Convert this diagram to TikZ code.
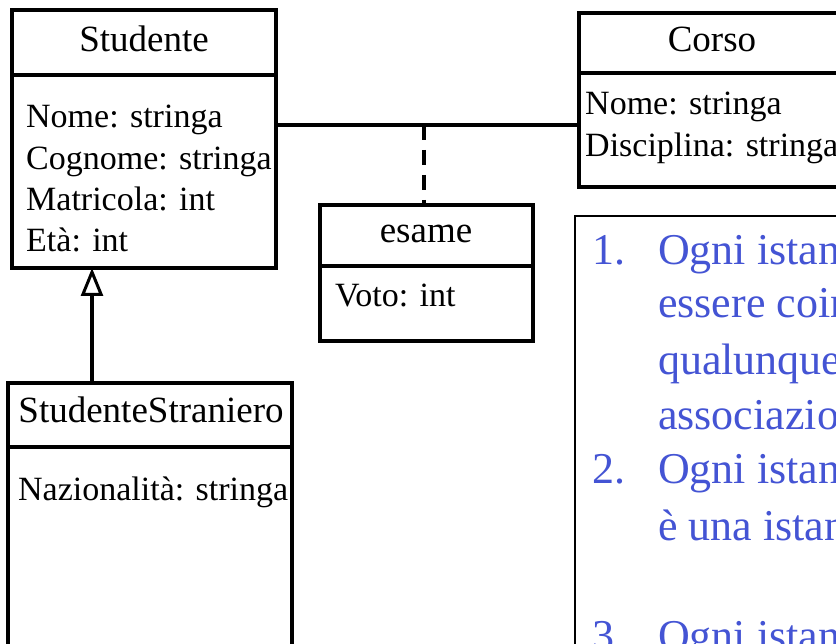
\documentclass[tikz,border=0pt]{standalone}
\usepackage{fontspec}
\setmainfont{Liberation Serif}
\usetikzlibrary{arrows.meta}
\definecolor{noteblue}{RGB}{68,84,212}
\begin{document}
\begin{tikzpicture}[x=1pt,y=-1pt,
  umlbox/.style={draw, line width=3.5pt, inner sep=0pt, outer sep=0pt},
  title/.style={font=\fontsize{37}{44}\selectfont, inner sep=0pt, anchor=base},
  attr/.style={font=\fontsize{34}{41}\selectfont, inner sep=0pt, anchor=base west},
  note/.style={font=\fontsize{44}{55}\selectfont, text=noteblue, inner sep=0pt, anchor=base west},
  link/.style={line width=3.5pt}]
\useasboundingbox (0,0) rectangle (836,644);
\clip (0,0) rectangle (836,644);
\fill[white] (0,0) rectangle (836,644);

% boxes
\node[umlbox, minimum width=264pt, minimum height=258pt] (stud) at (144,139) {};
\node[umlbox, minimum width=266pt, minimum height=174pt] (corso) at (712,100) {};
\node[umlbox, minimum width=213pt, minimum height=136pt] (esame) at (426.5,273) {};
\node[umlbox, minimum width=284pt, minimum height=317pt] (stra) at (150,541.5) {};

% separators
\draw[link] (stud.west |- 0,75) -- (stud.east |- 0,75);
\draw[link] (corso.west |- 0,73) -- (corso.east |- 0,73);
\draw[link] (esame.west |- 0,266) -- (esame.east |- 0,266);
\draw[link] (stra.west |- 0,447) -- (stra.east |- 0,447);

% titles
\node[title] (tstud) at (144,52) {Studente};
\node[title] (tcorso) at (712,52) {Corso};
\node[title] (tesame) at (426,243) {esame};
\node[title] (tstra) at (151,423) {StudenteStraniero};

% attributes
\node[attr] (a1) at (26,128) {Nome: stringa};
\node[attr] (a2) at (26,170) {Cognome: stringa};
\node[attr] (a3) at (26,211) {Matricola: int};
\node[attr] (a4) at (26,252) {Età: int};
\node[attr] (c1) at (585,115) {Nome: stringa};
\node[attr] (c2) at (585,157) {Disciplina: stringa};
\node[attr] (e1) at (335,307) {Voto: int};
\node[attr] (s1) at (18,500) {Nazionalità: stringa};

% connectors
\coordinate (assoc) at (424,125);
\coordinate (inh) at (92,300);
\draw[link] (stud.east |- assoc) -- (corso.west |- assoc);
\draw[link, dash pattern=on 15pt off 10pt] (assoc) -- (assoc |- esame.north);
\draw[link, -{Triangle[open, length=28pt, width=22pt, line width=3pt]}] (inh |- stra.north) -- (inh |- stud.south);

% note box
\draw[line width=1.5pt] (575,216) rectangle (900,900);
\node[note] (n1) at (592,265) {1.};
\node[note] (l1) at (658,265) {Ogni istanza};
\node[note] (l2) at (658,318) {essere coinvolta};
\node[note] (l3) at (658,375) {qualunque};
\node[note] (l4) at (658,430) {associazione};
\node[note] (n2) at (592,483) {2.};
\node[note] (l5) at (658,483) {Ogni istanza};
\node[note] (l6) at (658,540) {è una istanza};
\node[note] (n3) at (592,650) {3.};
\node[note] (l7) at (658,650) {Ogni istanza};
\end{tikzpicture}
\end{document}
